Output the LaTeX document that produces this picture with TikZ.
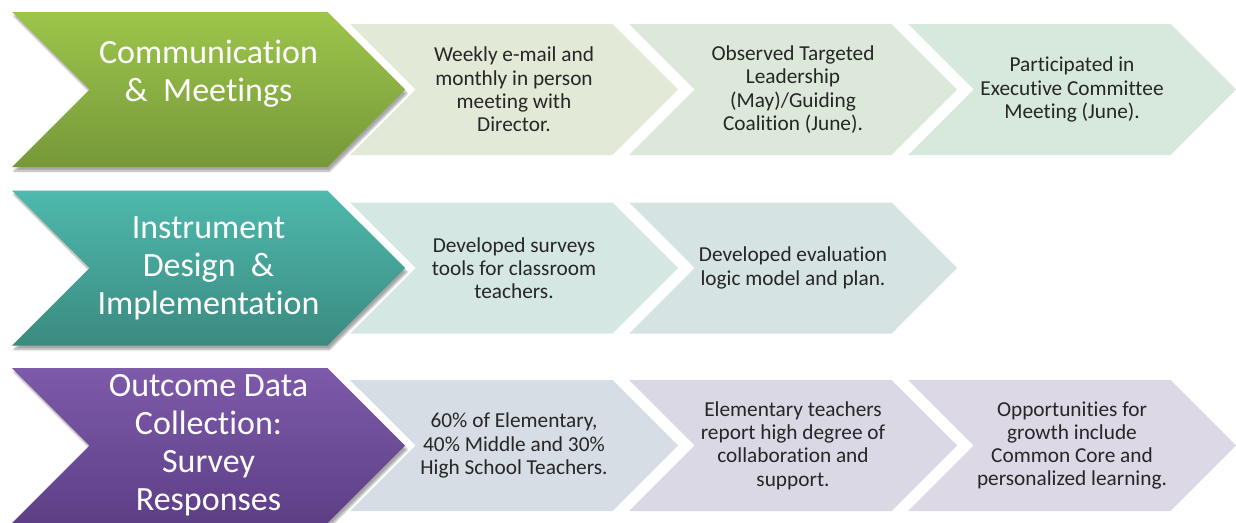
\documentclass[tikz,border=0pt]{standalone}
\usepackage{fontspec}
\setmainfont[RawFeature={-liga,-clig,-dlig}]{Carlito}
\usetikzlibrary{shapes.symbols, shadows.blur}

\definecolor{commTop}{HTML}{9DC54A}
\definecolor{commBot}{HTML}{76983A}
\definecolor{instTop}{HTML}{4EB9AD}
\definecolor{instBot}{HTML}{3B8A80}
\definecolor{outTop}{HTML}{7D5AAA}
\definecolor{outBot}{HTML}{5E3F86}
\definecolor{commA}{HTML}{E3E9D7}
\definecolor{commB}{HTML}{DCE8D9}
\definecolor{commC}{HTML}{D7E8DD}
\definecolor{instA}{HTML}{D5E7E2}
\definecolor{instB}{HTML}{D6E3E3}
\definecolor{outA}{HTML}{D6DDE4}
\definecolor{outB}{HTML}{D9D8E4}
\definecolor{outC}{HTML}{DCD8E5}

\begin{document}
\begin{tikzpicture}[x=1pt, y=1pt, node distance=279pt]
\tikzstyle{phase}=[shape=signal, signal to=east, signal from=west,
                    signal pointer angle=90, inner sep=0pt,
                    minimum width=393pt, minimum height=155pt,
                    text=white, align=center,
                    font=\fontsize{34}{38}\selectfont,
                    blur shadow={shadow xshift=2pt, shadow yshift=-4pt,
                    shadow opacity=35, shadow blur steps=6}]
\tikzstyle{task}=[shape=signal, signal to=east, signal from=west,
                    signal pointer angle=90, inner sep=0pt,
                    minimum width=328pt, minimum height=131pt,
                    text=black!85, align=center,
                    font=\fontsize{21.3}{23.3}\selectfont]
  \useasboundingbox (0,0) rectangle (1236,-522);
  %
  \node[phase, top color=commTop, bottom color=commBot] (C) at (208.5,-89.5)
       {Communication\\\&\ \ Meetings\\\mbox{}};
  \node[phase, top color=instTop, bottom color=instBot] (I) at (208.5,-268)
       {Instrument\\Design\ \ \&\\Implementation};
  \node[phase, top color=outTop, bottom color=outBot] (O) at (208.5,-445.5)
       {Outcome Data\\Collection:\\Survey\\Responses};
  %
  \node[task, fill=commA] (C1) [right of=C, node distance=305.5pt]
       {Weekly e-mail and\\monthly in person\\meeting with\\Director.};
  \node[task, fill=commB] (C2) [right of=C1]
       {Observed Targeted\\Leadership\\(May)/Guiding\\Coalition (June).};
  \node[task, fill=commC] (C3) [right of=C2]
       {Participated in\\Executive Committee\\Meeting (June).};
  %
  \node[task, fill=instA] (I1) [right of=I, node distance=305.5pt]
       {Developed surveys\\tools for classroom\\teachers.};
  \node[task, fill=instB] (I2) [right of=I1]
       {Developed evaluation\\logic model and plan.};
  %
  \node[task, fill=outA] (O1) [right of=O, node distance=305.5pt]
       {60\% of Elementary,\\40\% Middle and 30\%\\High School Teachers.};
  \node[task, fill=outB] (O2) [right of=O1]
       {Elementary teachers\\report high degree of\\collaboration and\\support.};
  \node[task, fill=outC] (O3) [right of=O2]
       {Opportunities for\\growth include\\Common Core and\\personalized learning.};
\end{tikzpicture}
\end{document}
